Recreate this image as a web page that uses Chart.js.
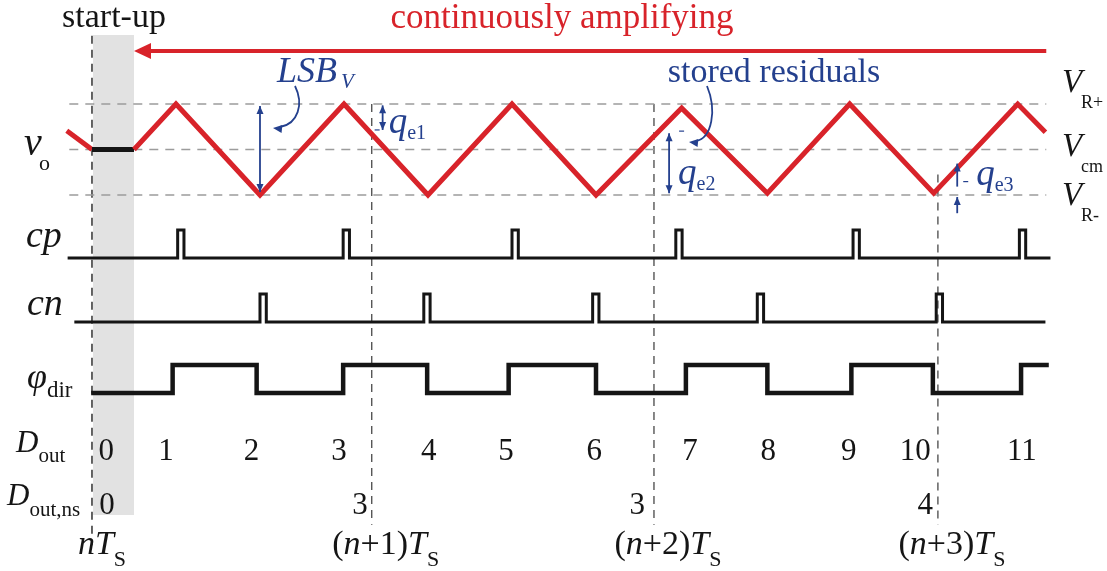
<!DOCTYPE html>
<html>
<head>
<meta charset="utf-8">
<script src="https://cdn.jsdelivr.net/npm/chart.js@4.4.0/dist/chart.umd.min.js"></script>
<style>
  html, body { margin: 0; padding: 0; background: #fff; }
  #timing { display: block; }
</style>
</head>
<body>
<canvas id="timing" width="1107" height="571"></canvas>
<script>
// time in half periods of the residue ramp, t = 0 at nT_S
// vo in units of the reference swing: VR+ = 1, Vcm = 0, VR- = -1
const voTimes  = [-0.30, 0.00, 0.50, 1.00, 2.00, 3.00, 4.00, 5.00, 6.00, 7.02, 8.04, 9.02, 10.02, 11.02, 11.35];
const voLevels = [0.41, 0.00, 0.00, 1.00, -1.00, 1.00, -1.00, 1.00, -1.00, 0.91, -0.96, 1.00, -0.96, 1.00, 0.38];
const holdStart = 0.0, holdEnd = 0.5;

const refLevels = [1, 0, -1];
const refNames  = ['R+', 'cm', 'R-'];

const cpPulses = [1.02, 2.99, 5.00, 6.95, 9.06, 11.04];
const cnPulses = [2.00, 3.95, 5.96, 7.92, 10.05];
const phiEdges = [0.96, 1.96, 2.99, 3.99, 4.96, 6.00, 7.07, 8.04, 9.04, 10.01, 11.06];

const doutCodes = ['0', '1', '2', '3', '4', '5', '6', '7', '8', '9', '10', '11'];
const doutTimes = [0.17, 0.88, 1.90, 2.94, 4.01, 4.93, 5.98, 7.12, 8.05, 9.01, 9.80, 11.07];
const nsCodes   = ['0', '3', '3', '4'];
const nsTimes   = [0.18, 3.19, 6.49, 9.92];

const sampleTimes  = [0.00, 3.33, 6.69, 10.07];
const sampleLabels = ['', '+1', '+2', '+3'];

// residuals q_e1..q_e3: arrow time, top level, bottom level
const qeNames  = ['e1', 'e2', 'e3'];
const qeTimes  = [3.46, 6.87, 10.30];
const qeTop    = [0.97, 0.36, -0.31];
const qeBottom = [0.43, -0.96, -1.40];

// plot frame
const X_MIN = -1.095, X_MAX = 12.083;
const Y_MIN = -9.264, Y_MAX = 3.286;
const CP_BASE = -2.385, CN_BASE = -3.79, PHI_BASE = -5.35, LOGIC_H = 0.615;
const PULSE_W = 0.075;

const RED = '#d8232a';
const BLUE = '#24408e';
const INK = '#151515';
const SERIF = '"Liberation Serif", "DejaVu Serif", serif';

function pulseTrain(times, base, start, end) {
    const pts = [{ x: start, y: base }];
    times.forEach(function (t) {
        pts.push({ x: t, y: base }, { x: t, y: base + LOGIC_H },
                 { x: t + PULSE_W, y: base + LOGIC_H }, { x: t + PULSE_W, y: base });
    });
    pts.push({ x: end, y: base });
    return pts;
}

function toggleTrain(edges, base, start, end) {
    let level = 0;
    const pts = [{ x: start, y: base }];
    edges.forEach(function (t) {
        pts.push({ x: t, y: base + level * LOGIC_H });
        level = 1 - level;
        pts.push({ x: t, y: base + level * LOGIC_H });
    });
    pts.push({ x: end, y: base + level * LOGIC_H });
    return pts;
}

const voPoints = voTimes.map(function (t, i) { return { x: t, y: voLevels[i] }; });

const datasets = [
    {
        data: voPoints, borderColor: RED, borderWidth: 5, borderJoinStyle: 'miter',
        segment: {
            borderColor: function (c) {
                return (c.p0.parsed.x >= holdStart && c.p1.parsed.x <= holdEnd) ? INK : RED;
            }
        }
    },
    { data: pulseTrain(cpPulses, CP_BASE, -0.29, 11.41), borderColor: INK, borderWidth: 3 },
    { data: pulseTrain(cnPulses, CN_BASE, -0.21, 11.35), borderColor: INK, borderWidth: 3 },
    { data: toggleTrain(phiEdges, PHI_BASE, -0.01, 11.39), borderColor: INK, borderWidth: 4.5 }
];

refLevels.forEach(function (v) {
    datasets.push({
        data: [{ x: -0.27, y: v }, { x: 11.36, y: v }],
        borderColor: '#9c9c9c', borderWidth: 1.5, borderDash: [9, 7]
    });
});

// sampling instants, the first one runs from the top label to the bottom row
const sampleTop = [2.5, 1.0, 1.0, -0.55];
const sampleBottom = [-8.7, -8.25, -8.25, -8.25];
sampleTimes.forEach(function (t, i) {
    datasets.push({
        data: [{ x: t, y: sampleTop[i] }, { x: t, y: sampleBottom[i] }],
        borderColor: i === 0 ? '#222' : '#555', borderWidth: 1.4, borderDash: [8, 6]
    });
});

datasets.forEach(function (d) {
    d.pointRadius = 0;
    d.fill = false;
    d.tension = 0;
    if (!d.borderJoinStyle) d.borderJoinStyle = 'miter';
});

function font(size, italic) {
    return (italic ? 'italic ' : '') + size + 'px ' + SERIF;
}

// parts: [text, size, italic, dy, dx]
function runText(ctx, parts, x, y, align) {
    let w = 0;
    parts.forEach(function (p) { ctx.font = font(p[1], p[2]); w += ctx.measureText(p[0]).width + (p[4] || 0); });
    let cx = align === 'center' ? x - w / 2 : (align === 'right' ? x - w : x);
    parts.forEach(function (p) {
        ctx.font = font(p[1], p[2]);
        cx += p[4] || 0;
        ctx.fillText(p[0], cx, y + (p[3] || 0));
        cx += ctx.measureText(p[0]).width;
    });
}

function head(ctx, x, y, ang, len, half) {
    ctx.beginPath();
    ctx.moveTo(x, y);
    ctx.lineTo(x - len * Math.cos(ang) + half * Math.sin(ang), y - len * Math.sin(ang) - half * Math.cos(ang));
    ctx.lineTo(x - len * Math.cos(ang) - half * Math.sin(ang), y - len * Math.sin(ang) + half * Math.cos(ang));
    ctx.closePath();
    ctx.fill();
}

function vArrow(ctx, x, y1, y2, headTop, headBottom) {
    ctx.beginPath();
    ctx.moveTo(x, y1);
    ctx.lineTo(x, y2);
    ctx.stroke();
    if (headTop) head(ctx, x, y1, -Math.PI / 2, 8, 3.5);
    if (headBottom) head(ctx, x, y2, Math.PI / 2, 8, 3.5);
}

const timingDecor = {
    id: 'timingDecor',
    beforeDatasetsDraw: function (chart) {
        const ctx = chart.ctx, xs = chart.scales.x;
        ctx.save();
        ctx.fillStyle = '#e2e2e2';
        const x0 = xs.getPixelForValue(holdStart) + 1, x1 = xs.getPixelForValue(holdEnd);
        ctx.fillRect(x0, 35, x1 - x0, 480);
        ctx.restore();
    },
    afterDatasetsDraw: function (chart) {
        const ctx = chart.ctx, xs = chart.scales.x, ys = chart.scales.y;
        const px = function (t) { return xs.getPixelForValue(t); };
        const py = function (v) { return ys.getPixelForValue(v); };
        ctx.save();
        ctx.textBaseline = 'alphabetic';

        // headline and the amplifying arrow
        ctx.fillStyle = INK;
        runText(ctx, [['start-up', 34, false]], 114, 27, 'center');
        ctx.fillStyle = RED;
        runText(ctx, [['continuously amplifying', 35, false]], 562, 28, 'center');
        ctx.strokeStyle = RED;
        ctx.lineWidth = 4;
        ctx.beginPath();
        ctx.moveTo(px(11.36), 51);
        ctx.lineTo(px(holdEnd) + 12, 51);
        ctx.stroke();
        head(ctx, px(holdEnd), 51, Math.PI, 17, 8);

        // signal names
        ctx.fillStyle = INK;
        runText(ctx, [['v', 40, true]], 24, 155);
        runText(ctx, [['o', 22, false]], 39, 170);
        runText(ctx, [['cp', 38, true]], 26, 247);
        runText(ctx, [['cn', 38, true]], 27, 315);
        runText(ctx, [['φ', 36, true], ['dir', 23, false, 9]], 27, 388);
        runText(ctx, [['D', 31, true], ['out', 21, false, 10]], 16, 452);
        runText(ctx, [['D', 31, true], ['out,ns', 21, false, 11]], 7, 505);

        // reference levels on the right
        refLevels.forEach(function (v, i) {
            const y = py(v) + (i === 0 ? -12 : (i === 1 ? 6 : 10));
            runText(ctx, [['V', 33, true]], 1062, y);
            runText(ctx, [[refNames[i], 18, false]], 1081, y + 16);
        });

        // output codes
        doutCodes.forEach(function (c, i) { runText(ctx, [[c, 31, false]], px(doutTimes[i]), 460, 'center'); });
        nsCodes.forEach(function (c, i) { runText(ctx, [[c, 31, false]], px(nsTimes[i]), 514, 'center'); });

        // sampling instants
        sampleTimes.forEach(function (t, i) {
            const parts = i === 0
                ? [['n', 34, true], ['T', 34, true], ['S', 22, false, 12]]
                : [['(', 34, false], ['n', 34, true], [sampleLabels[i] + ')', 34, false], ['T', 34, true], ['S', 22, false, 12]];
            runText(ctx, parts, px(t) + (i === 0 ? 10 : 14), 554, 'center');
        });

        // LSB and residual annotations
        ctx.fillStyle = BLUE;
        ctx.strokeStyle = BLUE;
        ctx.lineWidth = 1.8;
        vArrow(ctx, px(2), py(1) + 2, py(-1) - 3, true, true);
        runText(ctx, [['LSB', 36, true], ['V', 21, true, 6, 4]], 277, 82);

        ctx.beginPath();
        ctx.moveTo(295, 86);
        ctx.bezierCurveTo(304, 104, 298, 124, 280, 127);
        ctx.stroke();
        head(ctx, 273, 128, Math.PI + 0.1, 9, 4);

        runText(ctx, [['stored residuals', 34, false]], 774, 82, 'center');
        ctx.beginPath();
        ctx.moveTo(707, 86);
        ctx.bezierCurveTo(717, 110, 712, 138, 696, 141);
        ctx.stroke();
        head(ctx, 689, 142, Math.PI + 0.1, 9, 4);

        qeNames.forEach(function (n, i) {
            const x = px(qeTimes[i]);
            if (i < 2) {
                vArrow(ctx, x, py(qeTop[i]), py(qeBottom[i]), true, true);
            } else {
                vArrow(ctx, x, py(qeTop[i]), py(qeTop[i]) + 23, true, false);
                vArrow(ctx, x, py(-1) + 2, py(qeBottom[i]), true, false);
            }
        });
        ctx.lineWidth = 1.2;
        [[px(qeTimes[0]) - 8, py(qeBottom[0])], [px(qeTimes[1]) + 10, py(qeTop[1]) - 2], [px(qeTimes[2]) + 6, py(qeTop[2]) + 18]]
            .forEach(function (p) {
                ctx.beginPath();
                ctx.moveTo(p[0], p[1]);
                ctx.lineTo(p[0] + 5, p[1]);
                ctx.stroke();
            });
        runText(ctx, [['q', 37, true], [qeNames[0], 20, false, 6]], px(qeTimes[0]) + 6, 133);
        runText(ctx, [['q', 37, true], [qeNames[1], 20, false, 6]], px(qeTimes[1]) + 9, 184);
        runText(ctx, [['q', 37, true], [qeNames[2], 20, false, 6]], px(qeTimes[2]) + 19, 185);

        ctx.restore();
    }
};

const ctx = document.getElementById('timing').getContext('2d');
const timingChart = new Chart(ctx, {
    type: 'line',
    data: { datasets: datasets },
    options: {
        responsive: false,
        animation: false,
        layout: { padding: 0 },
        plugins: {
            legend: { display: false },
            tooltip: { enabled: false }
        },
        scales: {
            x: { type: 'linear', min: X_MIN, max: X_MAX, display: false },
            y: { type: 'linear', min: Y_MIN, max: Y_MAX, display: false }
        }
    },
    plugins: [timingDecor]
});
</script>
</body>
</html>
